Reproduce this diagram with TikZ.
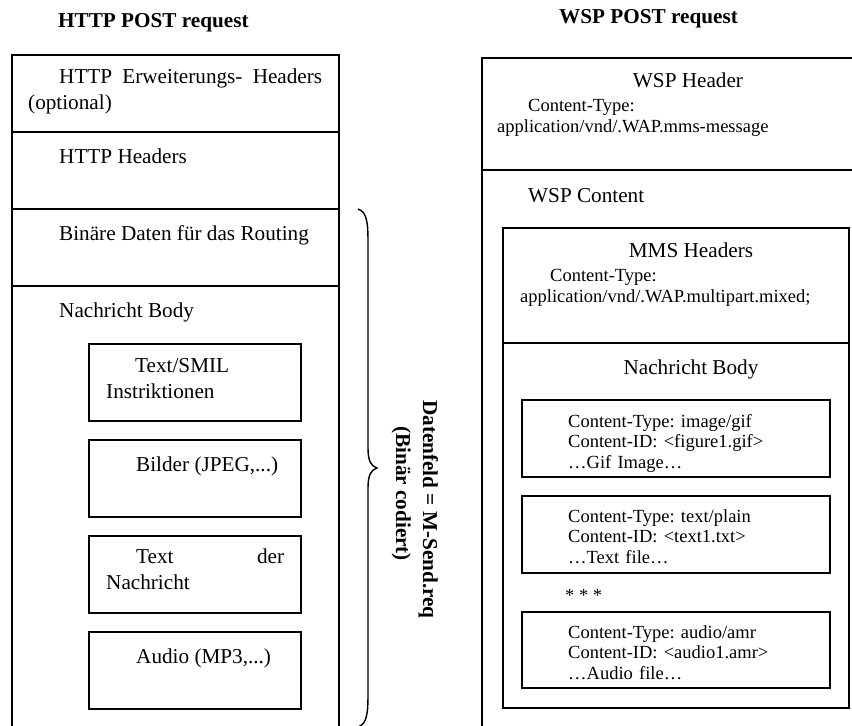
\documentclass[tikz,border=0pt]{standalone}
\usepackage{fontspec}
\setmainfont{Liberation Serif}
\frenchspacing
\begin{document}
\begin{tikzpicture}[x=1pt,y=-1pt,
  frame/.style={draw, line width=1.8pt, inner sep=0pt, outer sep=0pt, anchor=north west},
  big/.style={font=\fontsize{21.2}{26}\selectfont, inner sep=0pt},
  small/.style={font=\fontsize{18.5}{20.5}\selectfont, inner sep=0pt},
  title/.style={font=\fontsize{21.2}{26}\selectfont\bfseries, inner sep=0pt},
  bracestyle/.style={draw, line width=1.4pt}]
\useasboundingbox (0,0) rectangle (852,726);
\clip (0,0) rectangle (852,726);
% ---------- HTTP side ----------
\node[frame, minimum width=327pt, minimum height=77pt] (ext) at (12,55) {};
\node[frame, minimum width=327pt, minimum height=77pt] (hh) at (12,132) {};
\node[frame, minimum width=327pt, minimum height=77pt] (bin) at (12,209) {};
\node[frame, minimum width=327pt, minimum height=480pt] (body) at (12,286) {};
\node[frame, minimum width=212pt, minimum height=77pt] (ts) at (89,344) {};
\node[frame, minimum width=212pt, minimum height=77pt] (bi) at (89,440) {};
\node[frame, minimum width=212pt, minimum height=77pt] (tx) at (89,536) {};
\node[frame, minimum width=212pt, minimum height=77pt] (au) at (89,632) {};

\node[title, anchor=base west] (t1) at (58,27) {HTTP POST request};
\node[big, anchor=base west, text width=294pt, align=left] (l1) at (28,83)
  {\hspace*{31pt}HTTP\hfill Erweiterungs-\hfill Headers\\(optional)};
\node[big, anchor=base west] (l2) at (59,163) {HTTP Headers};
\node[big, anchor=base west] (l3) at (59,240) {Binäre Daten für das Routing};
\node[big, anchor=base west] (l4) at (59,317) {Nachricht Body};
\node[big, anchor=base west, text width=190pt, align=left] (i1) at (106,372)
  {\hspace*{29pt}Text/SMIL\\Instriktionen};
\node[big, anchor=base west] (i2) at (136,471) {Bilder (JPEG,...)};
\node[big, anchor=base west, text width=178pt, align=left] (i3) at (106,563)
  {\hspace*{30pt}Text\hfill der\\Nachricht};
\node[big, anchor=base west] (i4) at (136,663) {Audio (MP3,...)};

% brace
\coordinate (bt) at (358,209);
\coordinate (bm) at (377,468);
\coordinate (bb) at (358,727);
\draw[bracestyle] (bt) .. controls (368,212) and (368,226) .. (368,246)
  -- (368,448) .. controls (368,461) and (371,466) .. (bm)
  .. controls (371,470) and (368,475) .. (368,488)
  -- (368,690) .. controls (368,710) and (368,724) .. (bb);

\node[title, anchor=base west, rotate=-90] (r1) at (423,400) {Datenfeld = M-Send.req};
\node[title, anchor=base west, rotate=-90] (r2) at (396,426) {(Binär codiert)};

% ---------- WSP side ----------
\node[frame, minimum width=400pt, minimum height=112pt] (wh) at (482,58) {};
\node[frame, minimum width=400pt, minimum height=600pt] (wc) at (482,170) {};
\node[frame, minimum width=346pt, minimum height=115pt] (mh) at (503,228) {};
\node[frame, minimum width=346pt, minimum height=365pt] (mb) at (503,343) {};
\node[frame, minimum width=308pt, minimum height=77pt] (c1) at (522,400) {};
\node[frame, minimum width=308pt, minimum height=77pt] (c2) at (522,496) {};
\node[frame, minimum width=308pt, minimum height=76pt] (c3) at (522,612) {};

\node[title, anchor=base west] (t2) at (559,23) {WSP POST request};
\node[big, anchor=base] (w1) at (688,87) {WSP Header};
\node[small, anchor=base west] (w2) at (528,111) {Content-Type:};
\node[small, anchor=base west] (w3) at (497,132) {application/vnd/.WAP.mms-message};
\node[big, anchor=base west] (w4) at (528,202) {WSP Content};
\node[big, anchor=base] (m1) at (691,257) {MMS Headers};
\node[small, anchor=base west] (m2) at (550,281) {Content-Type:};
\node[small, anchor=base west] (m3) at (520,302) {application/vnd/.WAP.multipart.mixed;};
\node[big, anchor=base] (m4) at (691,374) {Nachricht Body};
\node[small, anchor=base west, text width=260pt, align=left] (c1t) at (568,427)
  {Content-Type: image/gif\\Content-ID: <figure1.gif>\\…Gif Image…};
\node[small, anchor=base west, text width=260pt, align=left] (c2t) at (568,522)
  {Content-Type: text/plain\\Content-ID: <text1.txt>\\…Text file…};
\node[small, anchor=base west] (st) at (565,601) {* * *};
\node[small, anchor=base west, text width=260pt, align=left] (c3t) at (568,638)
  {Content-Type: audio/amr\\Content-ID: <audio1.amr>\\…Audio file…};
\end{tikzpicture}
\end{document}
